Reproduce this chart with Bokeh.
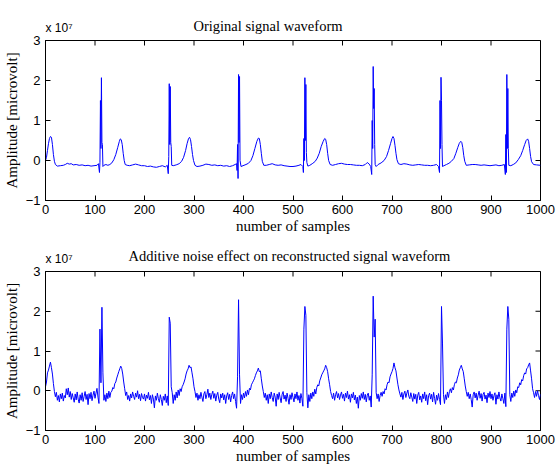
import math
from bokeh.plotting import figure
from bokeh.layouts import column
from bokeh.models import Range1d, FixedTicker, Title
from bokeh.embed import file_html
from bokeh.resources import INLINE

# ---------------- data (amplitudes in units of 1e7 microvolt) ----------------
orig_x = [0, 2, 4, 6, 8, 10, 12, 14, 16, 18, 20, 24, 30, 36, 40, 44, 48, 52, 56, 62,
          68, 74, 80, 86, 92, 98, 104, 107, 109, 110, 111, 112, 113, 114, 115, 116, 118, 122, 126, 130,
          134, 138, 142, 146, 149, 151, 153, 155, 157, 159, 161, 165, 170, 176, 182, 188, 194, 200, 206, 212,
          218, 224, 230, 236, 242, 246, 248, 249, 250, 251, 252, 253, 254, 255, 258, 264, 270, 275, 279, 283,
          286, 289, 291, 293, 295, 297, 299, 302, 306, 312, 318, 324, 330, 336, 342, 348, 354, 360, 366, 372,
          378, 383, 386, 387, 388, 389, 390, 391, 392, 393, 395, 399, 405, 410, 415, 419, 423, 427, 430, 432,
          434, 436, 438, 441, 446, 452, 458, 464, 470, 476, 482, 488, 494, 500, 506, 512, 516, 520, 521, 522,
          523, 524, 525, 526, 527, 528, 530, 534, 540, 545, 549, 553, 557, 561, 564, 566, 568, 570, 572, 575,
          580, 586, 592, 598, 604, 610, 616, 622, 628, 634, 640, 646, 650, 654, 657, 659, 660, 661, 662, 663,
          664, 665, 666, 668, 672, 678, 684, 689, 693, 697, 700, 702, 704, 706, 708, 710, 713, 718, 724, 730,
          736, 742, 748, 754, 760, 766, 772, 778, 784, 790, 794, 796, 797, 798, 799, 800, 801, 802, 805, 810,
          815, 820, 825, 829, 833, 836, 839, 841, 843, 845, 847, 850, 856, 862, 868, 874, 880, 886, 892, 898,
          904, 910, 916, 922, 927, 929, 930, 931, 932, 933, 934, 935, 936, 940, 945, 950, 955, 960, 964, 968,
          971, 974, 976, 978, 980, 982, 986, 992, 1000]
orig_y = [0.00, 0.08, 0.25, 0.42, 0.55, 0.60, 0.58, 0.40, 0.15, -0.02, -0.10, -0.14, -0.13, -0.12, -0.10, -0.07, -0.09, -0.08, -0.11, -0.10,
          -0.12, -0.11, -0.13, -0.12, -0.14, -0.13, -0.12, -0.08, -0.30, -0.05, 1.50, 0.30, 2.07, 0.45, 0.40, -0.15, -0.12, -0.10, -0.12, -0.10,
          -0.06, 0.02, 0.15, 0.33, 0.47, 0.54, 0.52, 0.40, 0.18, 0.00, -0.10, -0.12, -0.13, -0.11, -0.09, -0.11, -0.13, -0.13, -0.15, -0.14,
          -0.16, -0.17, -0.15, -0.13, -0.16, -0.12, -0.33, 0.10, 1.92, 0.40, 1.85, 0.45, 0.35, -0.12, -0.13, -0.11, -0.08, -0.02, 0.08, 0.25,
          0.42, 0.55, 0.58, 0.52, 0.35, 0.15, 0.00, -0.12, -0.15, -0.14, -0.12, -0.09, -0.10, -0.12, -0.11, -0.13, -0.12, -0.14, -0.13, -0.15,
          -0.13, -0.10, -0.08, -0.25, 0.40, -0.45, 2.15, 0.45, 2.10, 0.00, -0.15, -0.13, -0.10, -0.07, 0.00, 0.12, 0.30, 0.48, 0.56, 0.55,
          0.40, 0.18, -0.02, -0.12, -0.12, -0.10, -0.08, -0.11, -0.12, -0.11, -0.13, -0.14, -0.15, -0.15, -0.14, -0.12, -0.10, -0.15, -0.30, 0.55,
          0.00, 2.07, 0.50, 1.90, 0.20, -0.05, -0.14, -0.12, -0.07, -0.02, 0.06, 0.18, 0.35, 0.48, 0.55, 0.53, 0.40, 0.18, 0.00, -0.10,
          -0.12, -0.10, -0.08, -0.07, -0.09, -0.10, -0.10, -0.11, -0.12, -0.12, -0.13, -0.10, -0.05, -0.09, -0.15, -0.35, 1.00, 0.30, 2.35, 1.30,
          1.80, 0.40, -0.10, -0.15, -0.10, -0.06, 0.00, 0.10, 0.25, 0.42, 0.55, 0.60, 0.55, 0.38, 0.18, 0.02, -0.08, -0.10, -0.08, -0.09,
          -0.11, -0.12, -0.11, -0.10, -0.11, -0.12, -0.12, -0.13, -0.12, -0.10, -0.15, -0.30, 1.50, 0.30, 2.08, 1.50, 0.40, -0.15, -0.13, -0.10,
          -0.07, -0.02, 0.05, 0.18, 0.33, 0.43, 0.48, 0.45, 0.32, 0.12, -0.02, -0.12, -0.11, -0.10, -0.10, -0.11, -0.12, -0.11, -0.12, -0.13,
          -0.12, -0.11, -0.13, -0.12, -0.10, -0.35, 0.65, -0.30, 2.15, 0.30, 1.80, 0.30, -0.12, -0.13, -0.10, -0.06, 0.02, 0.12, 0.25, 0.40,
          0.50, 0.54, 0.48, 0.30, 0.10, -0.03, -0.10, -0.11, -0.12]

# reconstructed signal with additive noise, read every 2 samples (0, 2, ..., 1000)
noisy_y = [
    0.10, 0.22, 0.45, 0.52, 0.62, 0.72, 0.58, 0.42, 0.18, -0.02,
    -0.15, -0.04, -0.24, -0.12, -0.28, -0.08, -0.20, -0.06, -0.26, -0.12,
    -0.18, 0.05, -0.10, 0.07, -0.16, -0.02, -0.22, -0.07, -0.18, -0.29,
    -0.08, -0.23, -0.03, -0.21, -0.31, -0.10, -0.24, -0.05, -0.27, -0.14,
    -0.02, -0.22, -0.09, -0.35, -0.07, -0.20, -0.04, -0.25, -0.11, -0.01,
    -0.19, -0.06, 0.06, -0.16, -0.32, 1.55, 0.20, 2.10, 0.45, -0.24,
    -0.10, -0.27, -0.06, -0.20, -0.01, -0.17, -0.04, -0.01, 0.08, 0.05,
    0.18, 0.22, 0.32, 0.40, 0.48, 0.55, 0.62, 0.56, 0.42, 0.22,
    0.05, -0.12, -0.03, -0.22, -0.12, -0.26, -0.08, -0.18, -0.03, -0.14,
    -0.22, -0.06, -0.16, 0.00, -0.20, -0.09, -0.25, -0.07, -0.17, -0.21,
    -0.08, -0.26, -0.11, -0.19, -0.04, -0.23, -0.12, -0.32, -0.10, -0.21,
    -0.43, -0.13, -0.24, -0.06, -0.20, -0.29, -0.10, -0.22, -0.37, -0.14,
    -0.24, -0.08, -0.30, -0.13, -0.37, 1.85, 1.70, 0.10, -0.05, -0.32,
    -0.10, -0.24, -0.03, -0.18, 0.02, -0.12, 0.05, -0.02, 0.10, 0.15,
    0.22, 0.30, 0.42, 0.50, 0.55, 0.64, 0.58, 0.60, 0.45, 0.30,
    0.10, -0.02, -0.17, -0.06, -0.24, -0.10, -0.20, -0.04, -0.16, -0.27,
    -0.08, -0.02, -0.20, -0.10, 0.04, -0.17, -0.06, -0.22, -0.09, -0.01,
    -0.19, -0.07, -0.26, -0.11, -0.04, -0.21, -0.30, -0.08, -0.18, -0.06,
    -0.23, -0.10, -0.32, -0.13, -0.05, -0.22, -0.09, -0.28, -0.12, -0.03,
    -0.20, -0.08, -0.27, -0.44, 0.35, 2.29, 0.40, -0.32, -0.10, -0.22,
    -0.06, -0.18, -0.02, -0.14, 0.02, -0.10, 0.06, 0.02, 0.15, 0.20,
    0.25, 0.30, 0.38, 0.45, 0.50, 0.57, 0.48, 0.50, 0.30, 0.12,
    -0.02, -0.17, -0.06, -0.24, -0.10, -0.32, -0.08, -0.20, -0.03, -0.17,
    -0.27, -0.06, -0.16, -0.39, -0.08, -0.22, -0.04, -0.18, -0.30, -0.09,
    -0.02, -0.21, -0.11, -0.27, -0.06, -0.19, -0.34, -0.10, -0.22, -0.05,
    -0.17, -0.28, -0.08, -0.20, -0.03, -0.24, -0.12, -0.31, -0.07, -0.20,
    -0.39, 1.55, 2.12, 1.90, -0.05, -0.43, -0.10, -0.27, -0.06, -0.20,
    -0.03, -0.14, 0.04, -0.08, 0.08, 0.15, 0.12, 0.25, 0.32, 0.40,
    0.45, 0.50, 0.55, 0.64, 0.58, 0.48, 0.30, 0.15, -0.02, -0.12,
    -0.20, -0.06, -0.24, -0.10, -0.02, -0.18, -0.07, -0.22, -0.11, -0.03,
    -0.19, -0.09, -0.26, -0.06, -0.17, -0.01, -0.21, -0.10, -0.29, -0.08,
    -0.18, -0.04, -0.23, -0.11, -0.32, -0.16, -0.44, -0.12, -0.24, -0.07,
    -0.19, -0.03, -0.22, -0.09, -0.28, -0.11, -0.06, -0.24, -0.13, -0.41,
    0.40, 2.38, 1.35, 1.80, -0.05, -0.20, -0.08, -0.27, -0.12, -0.04,
    -0.14, -0.02, -0.08, 0.05, 0.02, 0.15, 0.22, 0.20, 0.35, 0.42,
    0.48, 0.56, 0.70, 0.58, 0.50, 0.32, 0.15, 0.02, -0.08, -0.16,
    -0.04, -0.22, -0.08, -0.01, -0.17, -0.06, 0.02, -0.14, -0.20, -0.05,
    -0.16, -0.27, -0.07, -0.21, -0.09, -0.32, -0.11, -0.04, -0.23, -0.13,
    -0.29, -0.08, -0.20, -0.03, -0.25, -0.10, -0.35, -0.12, -0.06, -0.21,
    -0.09, -0.28, -0.04, -0.19, -0.34, -0.11, -0.24, -0.07, -0.22, -0.35,
    2.12, 1.20, -0.10, -0.32, -0.10, -0.22, -0.03, -0.17, -0.02, 0.05,
    -0.05, 0.08, 0.02, 0.15, 0.22, 0.20, 0.32, 0.40, 0.52, 0.58,
    0.64, 0.55, 0.48, 0.30, 0.12, -0.02, -0.14, -0.04, -0.20, -0.08,
    -0.22, -0.41, -0.10, -0.03, -0.18, -0.06, -0.24, -0.11, -0.01, -0.19,
    -0.07, -0.26, -0.09, -0.04, -0.21, -0.11, -0.30, -0.06, -0.17, -0.02,
    -0.20, -0.08, -0.24, -0.12, -0.05, -0.34, -0.10, -0.21, -0.03, -0.18,
    -0.26, -0.08, -0.20, -0.32, -0.06, -0.40, 1.55, 2.12, 1.80, -0.10,
    -0.27, -0.06, -0.17, -0.01, -0.14, 0.02, -0.05, 0.10, 0.08, 0.20,
    0.15, 0.28, 0.25, 0.38, 0.45, 0.42, 0.55, 0.58, 0.65, 0.70,
    0.50, 0.30, 0.05, -0.05, -0.17, -0.02, -0.14, 0.00, -0.12, -0.22,
    -0.09,
]
noisy_x = list(range(0, 2 * len(noisy_y), 2))

x_ticks = [0, 100, 200, 300, 400, 500, 600, 700, 800, 900, 1000]
y_ticks = [-1, 0, 1, 2, 3]
x_range = (0, 1000)
y_range = (-1, 3)

titles = ["Original signal waveform",
          "Additive noise effect on reconstructed  signal waveform"]
x_label = "number of samples"
y_label = "Amplitude [microvolt]"
scale_text = "x 10\u2077"

SANS = "Liberation Sans"
SERIF = "Liberation Serif"
BLUE = "#0000ff"


def make_fig(title, xs, ys, height, b_top, b_bottom, title_offset, title_standoff, scale_standoff):
    p = figure(width=557, height=height, x_range=Range1d(*x_range), y_range=Range1d(*y_range),
               output_backend="svg", toolbar_location=None, title=None,
               min_border_left=45, min_border_right=17,
               min_border_top=b_top, min_border_bottom=b_bottom,
               background_fill_color="white", border_fill_color="white",
               outline_line_color="black")
    p.grid.visible = False

    p.xaxis.ticker = FixedTicker(ticks=x_ticks)
    p.yaxis.ticker = FixedTicker(ticks=y_ticks)
    for ax in p.xaxis + p.yaxis:
        ax.major_tick_in = 5
        ax.major_tick_out = 0
        ax.minor_tick_line_color = None
        ax.axis_line_color = "black"
        ax.major_tick_line_color = "black"
        ax.major_label_text_font = SANS
        ax.major_label_text_font_size = "13px"
        ax.major_label_text_color = "black"
        ax.axis_label_text_font = SERIF
        ax.axis_label_text_font_size = "15px"
        ax.axis_label_text_font_style = "normal"
        ax.axis_label_text_color = "black"
    p.xaxis.axis_label = x_label
    p.yaxis.axis_label = y_label
    p.xaxis.major_label_standoff = 4
    p.xaxis.axis_label_standoff = 1
    p.yaxis.major_label_standoff = 5
    p.yaxis.axis_label_standoff = 3

    # tick marks on the top and right edges of the box (inside, like the bottom/left ones)
    p.scatter(x_ticks, [y_range[1]] * len(x_ticks), marker="dash", angle=math.pi / 2,
              size=10, line_color="black", line_width=1)
    p.scatter([x_range[1]] * len(y_ticks), y_ticks, marker="dash",
              size=10, line_color="black", line_width=1)

    p.line(xs, ys, line_color=BLUE, line_width=1)

    # title (inner panel), then the exponent note (outer panel, drawn on the same row)
    p.add_layout(Title(text=title, align="left", offset=title_offset, standoff=title_standoff,
                       text_font=SERIF, text_font_size="14.5px", text_font_style="normal",
                       text_color="black"), "above")
    p.add_layout(Title(text=scale_text, align="left", offset=0, standoff=scale_standoff,
                       text_font=SANS, text_font_size="12px", text_font_style="normal",
                       text_color="black"), "above")
    return p


p1 = make_fig(titles[0], orig_x, orig_y, 236, 40, 36, 148, 14, -53)
p2 = make_fig(titles[1], noisy_x, noisy_y, 230, 35, 36, 83, 16, -57)

layout = column(p1, p2, spacing=0)
open("out.html", "w").write(file_html(layout, INLINE))
